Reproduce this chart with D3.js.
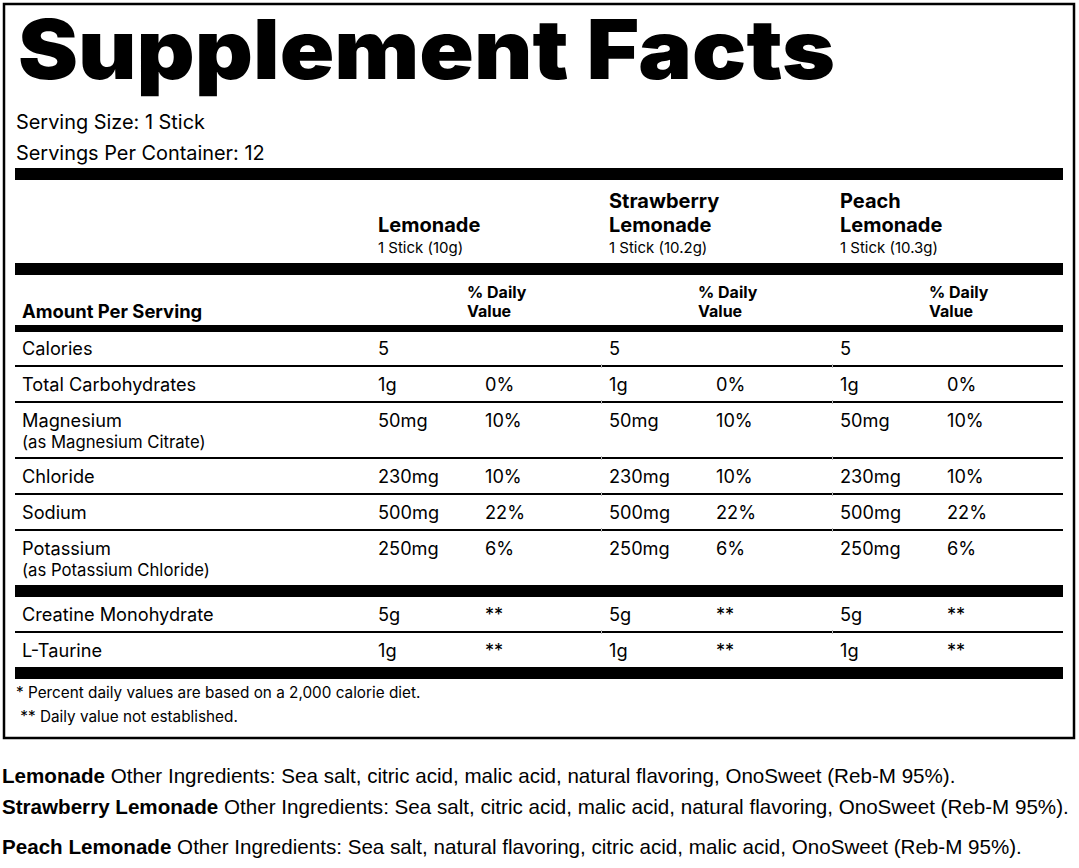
<!DOCTYPE html>
<html>
<head>
<meta charset="utf-8">
<script src="https://cdn.jsdelivr.net/npm/d3@7"></script>
<style>
  html, body { margin: 0; padding: 0; background: #fff; }
  svg { display: block; }
  text { font-family: Inter, "Noto Sans", sans-serif; fill: #000; }
  .ingredients text { font-family: "Liberation Sans", Arial, sans-serif; }
</style>
</head>
<body>
<div id="chart"></div>
<script>
// label data
const title = "Supplement Facts";
const servingInfo = ["Serving Size: 1 Stick", "Servings Per Container: 12"];
const flavors = ["Lemonade", "Strawberry Lemonade", "Peach Lemonade"];
const flavorHeaders = [["Lemonade"], ["Strawberry", "Lemonade"], ["Peach", "Lemonade"]];
const stickWeights = ["1 Stick (10g)", "1 Stick (10.2g)", "1 Stick (10.3g)"];

const nutrients = ["Calories", "Total Carbohydrates", "Magnesium", "Chloride", "Sodium", "Potassium", "Creatine Monohydrate", "L-Taurine"];
const nutrientSources = ["", "", "(as Magnesium Citrate)", "", "", "(as Potassium Chloride)", "", ""];
const nutrientSection = [0, 0, 0, 0, 0, 0, 1, 1];

const lemonadeAmounts = ["5", "1g", "50mg", "230mg", "500mg", "250mg", "5g", "1g"];
const strawberryAmounts = ["5", "1g", "50mg", "230mg", "500mg", "250mg", "5g", "1g"];
const peachAmounts = ["5", "1g", "50mg", "230mg", "500mg", "250mg", "5g", "1g"];
const lemonadeDV = ["", "0%", "10%", "10%", "22%", "6%", "**", "**"];
const strawberryDV = ["", "0%", "10%", "10%", "22%", "6%", "**", "**"];
const peachDV = ["", "0%", "10%", "10%", "22%", "6%", "**", "**"];

const footnotes = ["* Percent daily values are based on a 2,000 calorie diet.", " ** Daily value not established."];
const otherIngredients = [
    "Other Ingredients: Sea salt, citric acid, malic acid, natural flavoring, OnoSweet (Reb-M 95%).",
    "Other Ingredients: Sea salt, citric acid, malic acid, natural flavoring, OnoSweet (Reb-M 95%).",
    "Other Ingredients: Sea salt, natural flavoring, citric acid, malic acid, OnoSweet (Reb-M 95%)."
];

const amountsByFlavor = [lemonadeAmounts, strawberryAmounts, peachAmounts];
const dvByFlavor = [lemonadeDV, strawberryDV, peachDV];

const width = 1079, height = 868;
const left = 15, right = 1063;
const rowFont = 18.2;

const svg = d3.select("#chart").append("svg")
    .attr("width", width)
    .attr("height", height);

// outer box
svg.append("rect")
    .attr("x", 4).attr("y", 4)
    .attr("width", 1070).attr("height", 734)
    .attr("fill", "none")
    .attr("stroke", "#000")
    .attr("stroke-width", 2.5);

// columns
const col = d3.scaleBand().domain(flavors).range([378, 378 + 231 * 3]);
const dvHeadX = f => col(f) + 89;
const dvX = f => col(f) + 107;

function rule(y, h) {
    svg.append("rect")
        .attr("x", left).attr("y", y)
        .attr("width", right - left).attr("height", h)
        .attr("fill", "#000");
}

// title + serving info
svg.append("text")
    .attr("x", 18).attr("y", 79)
    .attr("font-size", 82)
    .attr("font-weight", 900)
    .attr("textLength", 817)
    .attr("lengthAdjust", "spacingAndGlyphs")
    .text(title);

svg.selectAll(".serving")
    .data(servingInfo)
    .enter().append("text")
    .attr("class", "serving")
    .attr("x", 16)
    .attr("y", (d, i) => 129 + i * 31)
    .attr("font-size", 19.9)
    .text(d => d);

rule(168, 12);

// flavor headers
const head = svg.selectAll(".flavor")
    .data(flavors)
    .enter().append("g")
    .attr("class", "flavor")
    .attr("transform", d => `translate(${col(d)},0)`);

head.each(function(f, i) {
    const g = d3.select(this);
    const lines = flavorHeaders[i];
    lines.forEach((l, j) => {
        g.append("text")
            .attr("x", 0)
            .attr("y", 232 - (lines.length - 1 - j) * 24)
            .attr("font-size", 20)
            .attr("font-weight", 700)
            .text(l);
    });
    g.append("text")
        .attr("x", 0).attr("y", 253)
        .attr("font-size", 15)
        .text(stickWeights[i]);
});

rule(263, 12);

svg.append("text")
    .attr("x", 22).attr("y", 318)
    .attr("font-size", 18.4)
    .attr("font-weight", 700)
    .text("Amount Per Serving");

flavors.forEach(f => {
    ["% Daily", "Value"].forEach((t, j) => {
        svg.append("text")
            .attr("x", dvHeadX(f))
            .attr("y", 298 + j * 19)
            .attr("font-size", 16)
            .attr("font-weight", 700)
            .text(t);
    });
});

rule(325, 7);

// nutrient rows
let y = 331;
nutrients.forEach((n, i) => {
    const top = y;
    const h = nutrientSources[i] ? 54 : 34;

    svg.append("text")
        .attr("x", 22).attr("y", top + 24)
        .attr("font-size", rowFont)
        .text(n);
    if (nutrientSources[i]) {
        svg.append("text")
            .attr("x", 22).attr("y", top + 45)
            .attr("font-size", 16.7)
            .text(nutrientSources[i]);
    }

    flavors.forEach((f, k) => {
        svg.append("text")
            .attr("x", col(f)).attr("y", top + 24)
            .attr("font-size", rowFont)
            .text(amountsByFlavor[k][i]);
        svg.append("text")
            .attr("x", dvX(f)).attr("y", top + 24)
            .attr("font-size", rowFont)
            .text(dvByFlavor[k][i]);
    });

    y = top + h;
    const last = i === nutrients.length - 1;
    const sectionEnd = last || nutrientSection[i + 1] !== nutrientSection[i];
    if (sectionEnd) {
        rule(y, 12);
        y += 12;
    } else {
        rule(y, 2);
        // faint cell joins
        flavors.slice(1).forEach(f => {
            svg.append("rect")
                .attr("x", col(f) - 8).attr("y", y - 1)
                .attr("width", 1).attr("height", 4)
                .attr("fill", "#bbb");
        });
        y += 2;
    }
});

// footnotes
svg.selectAll(".foot")
    .data(footnotes)
    .enter().append("text")
    .attr("class", "foot")
    .attr("x", 16)
    .attr("y", (d, i) => 698 + i * 24)
    .attr("font-size", 15.3)
    .attr("xml:space", "preserve")
    .text(d => d);

// other ingredients below the box
const ing = svg.append("g").attr("class", "ingredients");
[783, 814, 854].forEach((by, i) => {
    const t = ing.append("text")
        .attr("x", 2).attr("y", by)
        .attr("font-size", 20.6);
    t.append("tspan").attr("font-weight", 700).text(flavors[i]);
    t.append("tspan").text(" " + otherIngredients[i]);
});
</script>
</body>
</html>
